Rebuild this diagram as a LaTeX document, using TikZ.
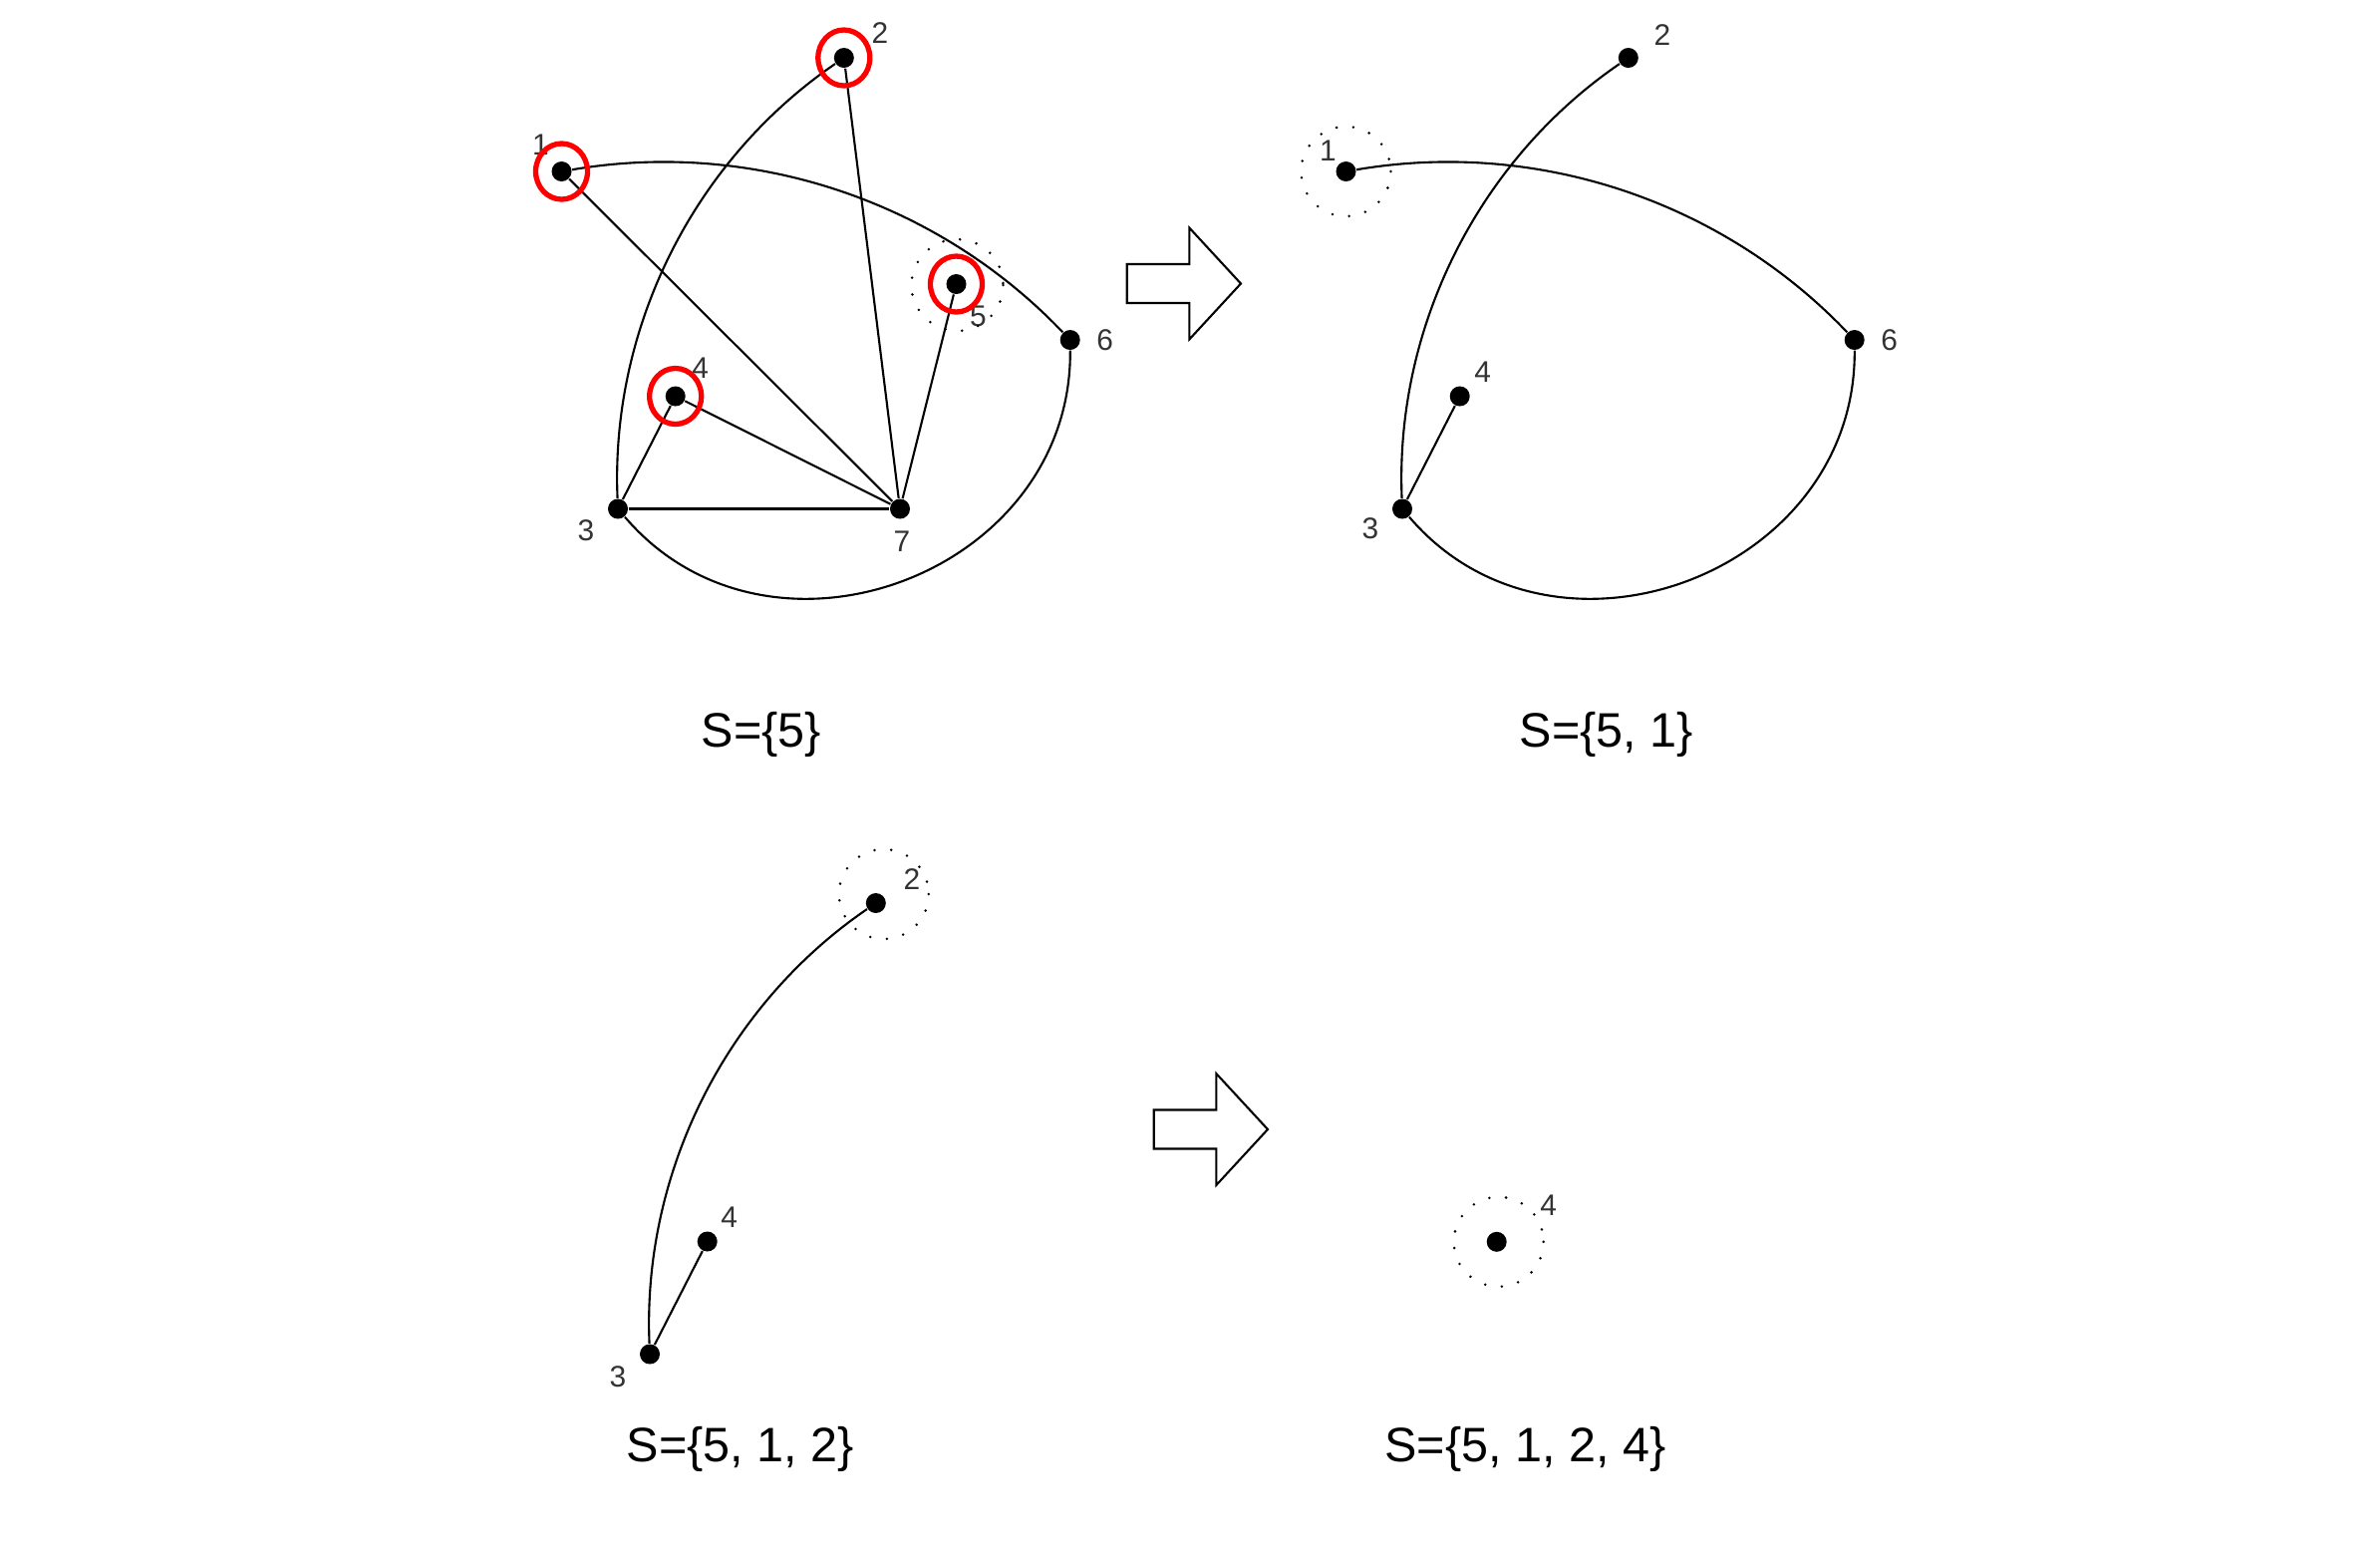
\documentclass[tikz,border=0pt]{standalone}
\usepackage{fontspec}
\setmainfont{Liberation Sans}
\usepackage{tikz}
\usetikzlibrary{calc}

\tikzset{
  vtx/.style={circle, fill=black, inner sep=0pt, minimum size=0.2cm},
  lbl/.style={inner sep=0pt, font=\fontsize{8.5}{10}\selectfont, text=black!80},
  setlbl/.style={inner sep=0pt, anchor=base, font=\fontsize{13.8}{16}\selectfont},
  edge/.style={line width=0.6pt},
  redring/.style={draw=red, line width=1.5pt},
  dotring/.style={line width=0.8pt, line cap=round, dash pattern=on 0pt off 4.8pt},
  fatarrow/.pic={
    \draw[line width=0.6pt] (0,-19.5) -- (62.6,-19.5) -- (62.6,-56) -- (114.3,0)
      -- (62.6,56) -- (62.6,19.5) -- (0,19.5) -- cycle;
  },
}

\begin{document}
\begin{tikzpicture}[x=0.01cm, y=-0.01cm]
  \useasboundingbox (0,0) rectangle (2388,1547);

  % panel 1: S={5}
  \node[vtx] (a1) at (563.5,172) {};
  \node[vtx] (a2) at (846.8,58) {};
  \node[vtx] (a3) at (620,510.5) {};
  \node[vtx] (a4) at (677.7,397.5) {};
  \node[vtx] (a5) at (959.5,285) {};
  \node[vtx] (a6) at (1073.7,341) {};
  \node[vtx] (a7) at (903,510.5) {};
  \node[lbl] (la1) at ([shift={(-21,-27)}]a1) {1};
  \node[lbl] (la2) at ([shift={(36,-25)}]a2) {2};
  \node[lbl] (la3) at ([shift={(-32,22)}]a3) {3};
  \node[lbl] (la4) at ([shift={(25,-28)}]a4) {4};
  \node[lbl] (la5) at ([shift={(22,32)}]a5) {5};
  \node[lbl] (la6) at ([shift={(35,0)}]a6) {6};
  \node[lbl] (la7) at ([shift={(2,33)}]a7) {7};
  \draw[edge] (a1) to[bend left=28, looseness=0.9] (a6);
  \draw[edge] (a3) to[bend left=29, looseness=0.9] (a2);
  \draw[edge] (a3) to[bend right=70, looseness=1.2] (a6);
  \draw[edge] (a1) -- (a7);
  \draw[edge] (a2) -- (a7);
  \draw[edge] (a3) -- (a4);
  \draw[edge] (a4) -- (a7);
  \draw[edge] (a3) -- (a7);
  \draw[edge] (a5) -- (a7);
  \draw[dotring] ([shift={(1,1)}]a5) circle[radius=46];
  \foreach \v in {a1,a2,a4,a5}
    \draw[redring] (\v) ellipse[x radius=26, y radius=28];
  \node[setlbl] (sa) at (763.8,749) {S=\{5\}};

  \pic at (1130.7,284.5) {fatarrow};

  % panel 2: S={5, 1}
  \begin{scope}[shift={(787,0)}]
    \node[vtx] (b1) at (563.5,172) {};
    \node[vtx] (b2) at (846.8,58) {};
    \node[vtx] (b3) at (620,510.5) {};
    \node[vtx] (b4) at (677.7,397.5) {};
    \node[vtx] (b6) at (1073.7,341) {};
  \end{scope}
  \node[lbl] (lb1) at ([shift={(-18,-21)}]b1) {1};
  \node[lbl] (lb2) at ([shift={(34,-23)}]b2) {2};
  \node[lbl] (lb3) at ([shift={(-32,20)}]b3) {3};
  \node[lbl] (lb4) at ([shift={(23,-24)}]b4) {4};
  \node[lbl] (lb6) at ([shift={(35,0)}]b6) {6};
  \draw[edge] (b1) to[bend left=28, looseness=0.9] (b6);
  \draw[edge] (b3) to[bend left=29, looseness=0.9] (b2);
  \draw[edge] (b3) to[bend right=70, looseness=1.2] (b6);
  \draw[edge] (b3) -- (b4);
  \draw[dotring] (b1) circle[radius=45];
  \node[setlbl] (sb) at (1612,749) {S=\{5, 1\}};

  % panel 3: S={5, 1, 2}
  \begin{scope}[shift={(32,848)}]
    \node[vtx] (c2) at (846.8,58) {};
    \node[vtx] (c3) at (620,510.5) {};
    \node[vtx] (c4) at (677.7,397.5) {};
  \end{scope}
  \node[lbl] (lc2) at ([shift={(36,-24)}]c2) {2};
  \node[lbl] (lc3) at ([shift={(-32,23)}]c3) {3};
  \node[lbl] (lc4) at ([shift={(22,-24)}]c4) {4};
  \draw[edge] (c3) to[bend left=29, looseness=0.9] (c2);
  \draw[edge] (c3) -- (c4);
  \draw[dotring] ([shift={(8,-9)}]c2) circle[radius=45];
  \node[setlbl] (sc) at (743,1466) {S=\{5, 1, 2\}};

  \pic at (1157.7,1133) {fatarrow};

  % panel 4: S={5, 1, 2, 4}
  \node[vtx] (d4) at (1501.7,1245.8) {};
  \node[lbl] (ld4) at ([shift={(52,-37)}]d4) {4};
  \draw[dotring] ([shift={(2,0)}]d4) circle[radius=45];
  \node[setlbl] (sd) at (1530.6,1466) {S=\{5, 1, 2, 4\}};
\end{tikzpicture}
\end{document}
